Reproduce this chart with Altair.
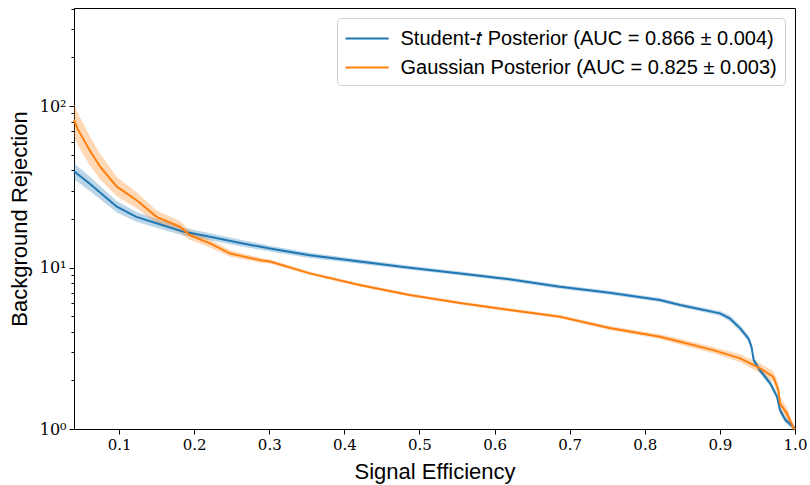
import altair as alt
import pandas as pd

# ---- data ----
series_names = [
    "Student-𝑡 Posterior (AUC = 0.866 ± 0.004)",
    "Gaussian Posterior (AUC = 0.825 ± 0.003)",
]
series_colors = ["#1f77b4", "#ff7f0e"]

x_student = [0.040, 0.061, 0.079, 0.097, 0.123, 0.150, 0.185, 0.221, 0.265, 0.301,
             0.354, 0.420, 0.487, 0.554, 0.620, 0.687, 0.753, 0.820, 0.847, 0.900,
             0.913, 0.927, 0.938, 0.942, 0.945, 0.953, 0.967, 0.976, 0.980, 0.987,
             0.998, 1.000]
y_student = [39.5, 33.0, 28.0, 23.8, 20.6, 18.8, 16.7, 15.5, 14.1, 13.1,
             11.9, 10.9, 9.97, 9.2, 8.45, 7.6, 6.98, 6.3, 5.86, 5.2,
             4.85, 4.2, 3.64, 3.24, 2.67, 2.32, 1.92, 1.59, 1.31, 1.14,
             1.03, 1.0]
# half-width of the uncertainty band, in decades
band_student = [0.05, 0.045, 0.04, 0.035, 0.03, 0.028, 0.025, 0.022, 0.02, 0.018,
                0.016, 0.014, 0.013, 0.012, 0.012, 0.012, 0.012, 0.012, 0.013, 0.015,
                0.018, 0.02, 0.02, 0.02, 0.02, 0.02, 0.02, 0.02, 0.02, 0.02,
                0.02, 0.01]

x_gauss = [0.040, 0.045, 0.061, 0.075, 0.097, 0.123, 0.150, 0.181, 0.194, 0.221,
           0.248, 0.288, 0.301, 0.354, 0.420, 0.487, 0.554, 0.620, 0.687, 0.753,
           0.820, 0.847, 0.891, 0.927, 0.953, 0.971, 0.978, 0.980, 0.989, 0.998,
           1.000]
y_gauss = [82, 72, 53, 42, 31.7, 26.2, 20.6, 17.9, 15.9, 14.1,
           12.2, 11.1, 10.9, 9.2, 7.8, 6.76, 6.03, 5.46, 4.96, 4.22,
           3.73, 3.47, 3.08, 2.74, 2.38, 2.11, 1.74, 1.44, 1.25, 1.02,
           1.0]
band_gauss = [0.1, 0.1, 0.09, 0.08, 0.06, 0.05, 0.04, 0.035, 0.03, 0.025,
              0.02, 0.015, 0.012, 0.01, 0.01, 0.01, 0.01, 0.01, 0.01, 0.012,
              0.015, 0.018, 0.02, 0.025, 0.03, 0.035, 0.04, 0.04, 0.04, 0.02,
              0.01]

x_ticks = [0.1, 0.2, 0.3, 0.4, 0.5, 0.6, 0.7, 0.8, 0.9, 1.0]
y_ticks = [1, 2, 3, 4, 5, 6, 7, 8, 9, 10, 20, 30, 40, 50, 60, 70, 80, 90, 100, 200, 300, 400]

rows = []
for name, xs, ys, hs in [(series_names[0], x_student, y_student, band_student),
                         (series_names[1], x_gauss, y_gauss, band_gauss)]:
    for x, y, h in zip(xs, ys, hs):
        rows.append(dict(series=name, eff=x, rej=y, lo=y * 10 ** (-h), hi=y * 10 ** h))
df = pd.DataFrame(rows)

SERIF = "DejaVu Serif"
SANS = "Liberation Sans"

xscale = alt.Scale(domain=[0.04, 1.0], nice=False, zero=False)
yscale = alt.Scale(type="log", domain=[1, 405], nice=False)
cscale = alt.Scale(domain=series_names, range=series_colors)

legend = alt.Legend(
    title=None, orient="top-right", offset=10, padding=7.5,
    labelFont=SANS, labelFontSize=20, labelColor="black", labelLimit=600,
    labelOffset=30, symbolType="M-1,0L2.6,0", symbolSize=576, symbolStrokeWidth=2,
    symbolFillColor="transparent", symbolOpacity=1,
    rowPadding=6, strokeColor="#d0d0d0", fillColor="white", cornerRadius=4)
color = alt.Color("series:N", scale=cscale, sort=series_names, legend=legend)

xaxis = alt.Axis(values=x_ticks, format=".1f", grid=False, labelFont=SERIF, labelFontSize=15,
                 labelColor="black", labelFlush=False, labelPadding=3, tickSize=5,
                 tickColor="black", domainColor="black", titleFont=SANS, titleFontSize=22,
                 titleFontWeight="normal", titleColor="black", titleY=49,
                 titleBaseline="alphabetic")
yaxis = alt.Axis(values=y_ticks, grid=False, labelFont=SERIF, labelFontSize=16,
                 labelColor="black", labelPadding=3,
                 labelExpr="datum.value == 1 ? '10⁰' : datum.value == 10 ? '10¹' : datum.value == 100 ? '10²' : ''",
                 tickSize={"condition": {"test": "datum.value == 1 || datum.value == 10 || datum.value == 100", "value": 5}, "value": 3},
                 tickColor="black", domainColor="black", titleFont=SANS, titleFontSize=22,
                 titleFontWeight="normal", titleColor="black", titleX=-48,
                 titleBaseline="alphabetic", titleAngle=-90, titleAlign="center")

band = alt.Chart(df).mark_area(opacity=0.3).encode(
    x=alt.X("eff:Q", scale=xscale, axis=xaxis, title="Signal Efficiency"),
    y=alt.Y("lo:Q", scale=yscale, axis=yaxis, title="Background Rejection"),
    y2="hi:Q",
    color=color,
    detail="series:N",
)

line = alt.Chart(df).mark_line(strokeWidth=2).encode(
    x=alt.X("eff:Q", scale=xscale),
    y=alt.Y("rej:Q", scale=yscale),
    color=color,
)

chart = alt.layer(band, line).properties(
    width=721, height=421,
    autosize=alt.AutoSizeParams(type="none"),
    padding={"left": 74, "top": 8, "right": 15, "bottom": 56},
).configure_view(stroke="black", strokeWidth=1)

chart.save("out.html", embed_options={"renderer": "svg", "actions": False})
